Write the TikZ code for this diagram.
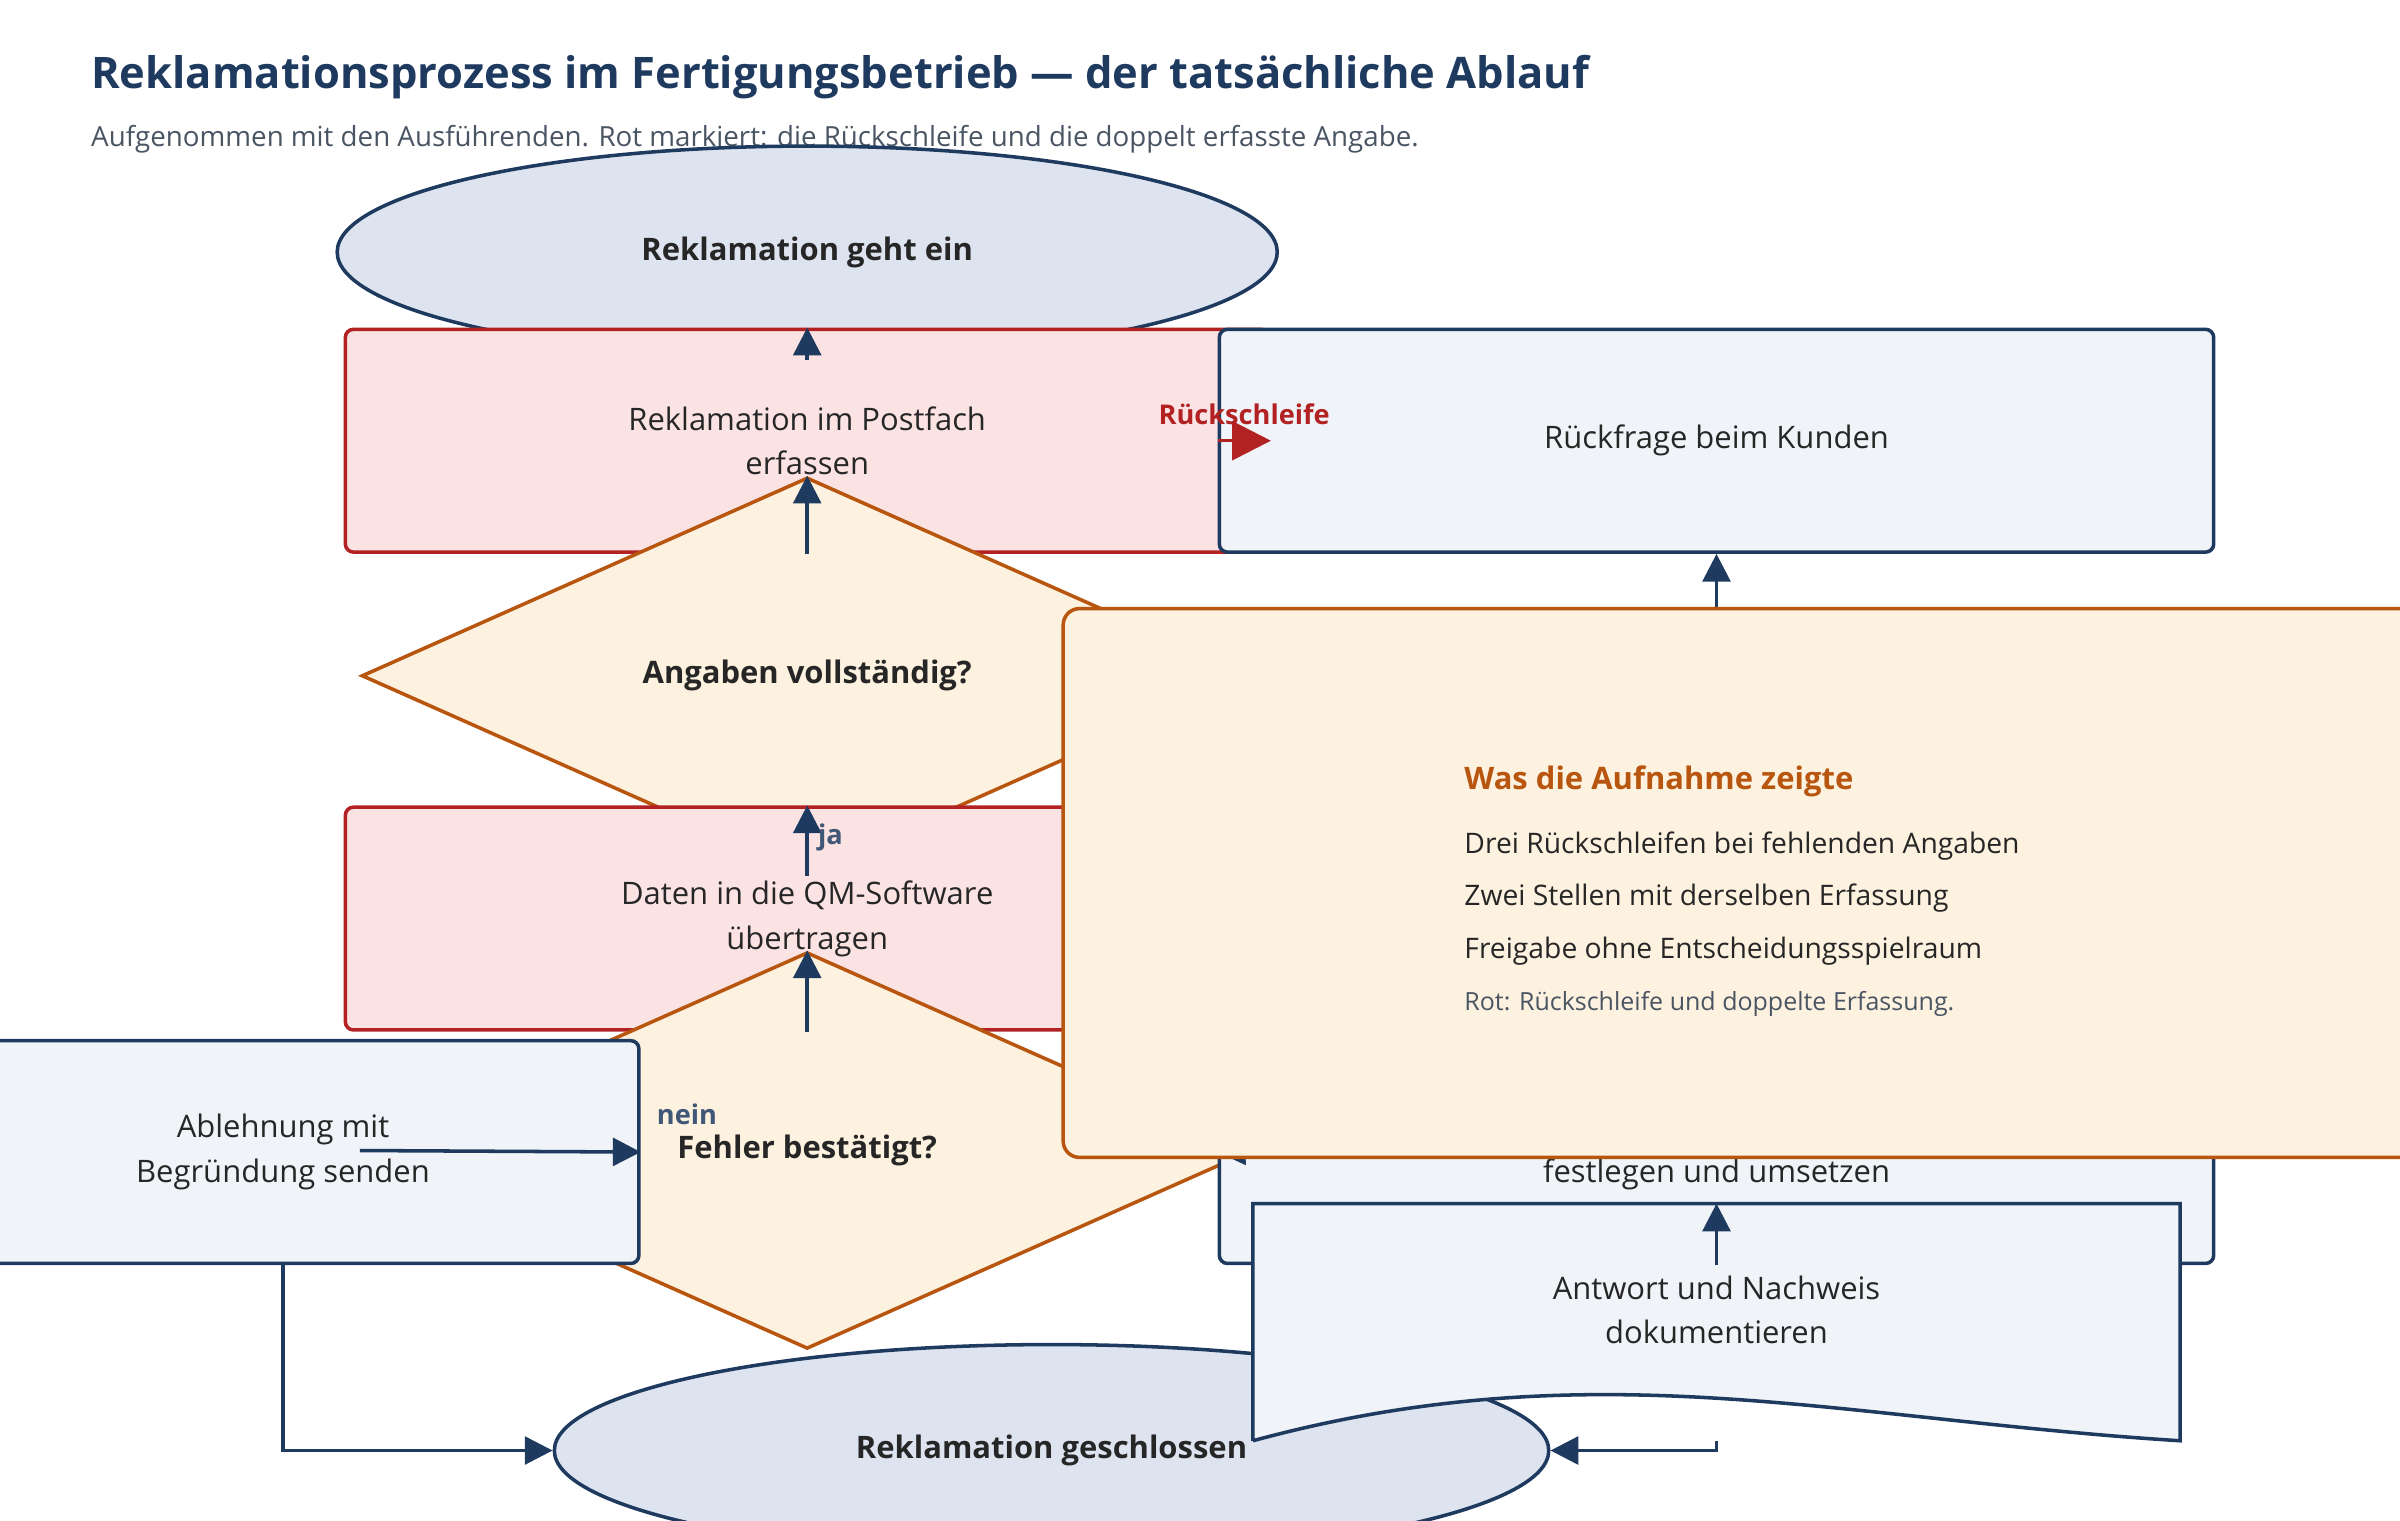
\documentclass[tikz,border=0pt]{standalone}
\usepackage{fontspec}
\setmainfont{Open Sans}
\usetikzlibrary{shapes.geometric,arrows.meta,positioning,calc}
\definecolor{navy}{HTML}{1F3A5F}
\definecolor{redline}{HTML}{B22222}
\definecolor{redfill}{HTML}{FBE3E4}
\definecolor{orline}{HTML}{B8560F}
\definecolor{orfill}{HTML}{FDF1DF}
\definecolor{bluefill}{HTML}{F0F3F8}
\definecolor{ellfill}{HTML}{DDE4F0}
\definecolor{subgray}{HTML}{4A5563}

\begin{document}
\begin{tikzpicture}[
    x=0.02cm, y=-0.02cm,
    line width=1.3pt,
    terminal/.style={ellipse, draw=navy, fill=ellfill, minimum width=346, minimum height=78,
                     font=\fontsize{11.4}{14}\selectfont\bfseries, text=black!85},
    procbox/.style={rectangle, rounded corners=3pt, draw=navy, fill=bluefill, minimum width=366,
                 minimum height=82, align=center, font=\fontsize{11.4}{16.5}\selectfont, text=black!85},
    redbox/.style={procbox, draw=redline, fill=redfill, minimum width=340},
    decision/.style={diamond, draw=orline, fill=orfill, minimum width=328, minimum height=146,
                     inner sep=0pt, font=\fontsize{11.4}{14}\selectfont\bfseries, text=black!85},
    arrow/.style={-{Triangle[length=0.36cm,width=0.36cm]}, navy},
    elabel/.style={font=\fontsize{10}{12}\selectfont\bfseries, text=navy!85}
]
\useasboundingbox (0,0) rectangle (1552,983);

% Title
\node[anchor=west, font=\fontsize{16}{19}\selectfont\bfseries, text=navy] (title) at (52,50)
    {Reklamationsprozess im Fertigungsbetrieb — der tatsächliche Ablauf};
\node[anchor=west, font=\fontsize{10.2}{12}\selectfont, text=subgray] (subtitle) at (52,90)
    {Aufgenommen mit den Ausführenden. Rot markiert: die Rückschleife und die doppelt erfasste Angabe.};

% Main flow
\node[terminal] (start) at (522,163) {Reklamation geht ein};
\node[redbox] (postfach) at (522,285) {Reklamation im Postfach\\erfassen};
\node[decision] (vollst) at (522,437) {Angaben vollständig?};
\node[redbox] (qm) at (522,594) {Daten in die QM-Software\\übertragen};
\node[decision] (fehler) at (522,744) {Fehler bestätigt?};
\node[procbox, minimum width=262] (ablehnung) at (183,745) {Ablehnung mit\\Begründung senden};
\node[procbox] (rueckfrage) at (1110,285) {Rückfrage beim Kunden};
\node[procbox] (sofort) at (1110,745) {Sofortmaßnahme\\festlegen und umsetzen};
\node[rectangle, minimum width=340, minimum height=86] (antwort) at (1110,855) {};
\node[terminal, minimum width=366] (ende) at (680,938) {Reklamation geschlossen};

% Document shape
\filldraw[navy, fill=bluefill] (antwort.south west) -- (antwort.north west) -- (antwort.north east)
    -- (antwort.south east) .. controls (1190,918) and (1030,872) .. (antwort.south west);
\node[align=center, font=\fontsize{11.4}{16.5}\selectfont, text=black!85] (antworttext) at (1110,847)
    {Antwort und Nachweis\\dokumentieren};

% Connectors
\draw[arrow] (start) -- (postfach);
\draw[arrow] (postfach) -- (vollst);
\draw[arrow] (vollst) -- node[elabel, right, pos=0.55] {ja} (qm);
\draw[arrow] (vollst.east) -| node[elabel, above, pos=0.06] {nein} (rueckfrage.south);
\draw[-{Triangle[length=0.5cm,width=0.5cm]}, redline] (rueckfrage.west) --
    node[above=2pt, font=\fontsize{10}{12}\selectfont\bfseries, text=redline] {Rückschleife} (postfach.east);
\draw[arrow] (qm) -- (fehler);
\draw[arrow] (fehler.east) -- node[elabel, above, pos=0.12] {ja} (sofort.west);
\draw[arrow] (fehler.west) -- node[elabel, above, pos=1.0, anchor=south west, xshift=2pt, yshift=6pt] {nein} (ablehnung.east);
\draw[arrow] (sofort) -- (antwort);
\draw[arrow] (ablehnung.south) |- (ende.west);
\draw[arrow] (antwort.south) |- (ende.east);

% Findings box
\node[draw=orline, fill=orfill, rounded corners=6pt, minimum width=601, minimum height=202] (notes) at (1215.5,571) {};
\node[anchor=west, font=\fontsize{11.4}{14}\selectfont\bfseries, text=orline] (ntitle) at (940,505) {Was die Aufnahme zeigte};
\node[anchor=west, font=\fontsize{10.4}{12}\selectfont, text=black!85] (n1) at (940,547) {Drei Rückschleifen bei fehlenden Angaben};
\node[anchor=west, font=\fontsize{10.4}{12}\selectfont, text=black!85] (n2) at (940,581) {Zwei Stellen mit derselben Erfassung};
\node[anchor=west, font=\fontsize{10.4}{12}\selectfont, text=black!85] (n3) at (940,615) {Freigabe ohne Entscheidungsspielraum};
\node[anchor=west, font=\fontsize{9.2}{11}\selectfont, text=subgray] (n4) at (940,649) {Rot: Rückschleife und doppelte Erfassung.};

\end{tikzpicture}
\end{document}
